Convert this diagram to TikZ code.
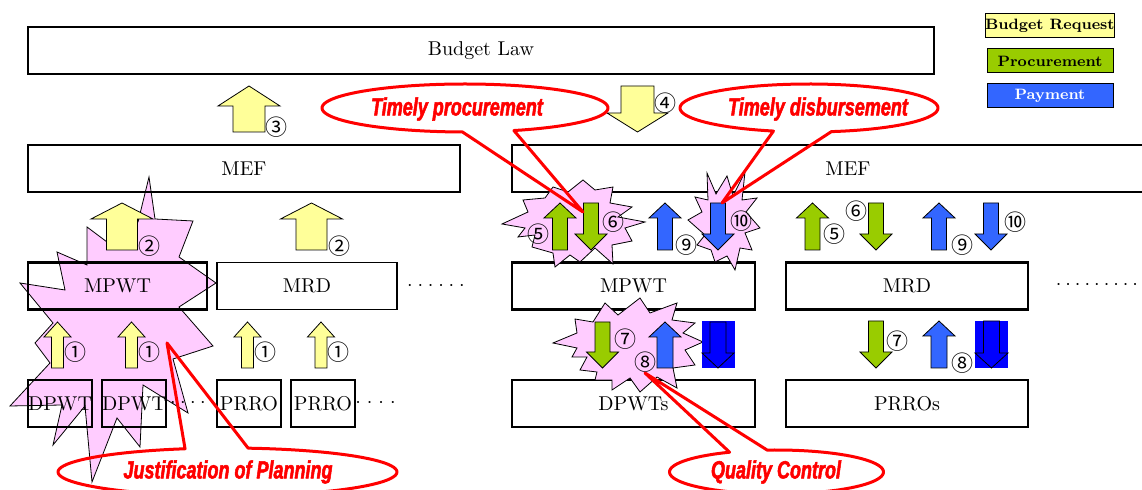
\documentclass[tikz,border=0pt]{standalone}
\usepackage{fontspec}
\newfontfamily\circfont{Noto Sans CJK JP}
\newfontfamily\calloutfont[FakeStretch=0.72,FakeBold=2]{Liberation Sans}

\definecolor{reqyellow}{HTML}{FFFF99}
\definecolor{procgreen}{HTML}{99CC00}
\definecolor{payblue}{HTML}{3366FF}
\definecolor{holdblue}{HTML}{0000FF}
\definecolor{burstpink}{HTML}{FFCCFF}

\newcommand{\dotrow}[2]{\makebox[#1]{\cleaders\hbox to #2{\hss$\cdot$\hss}\hfill}}

\tikzset{
  pics/uparrow/.style n args={4}{code={
    \path[pic actions] ({-#2/2},0) -- ({-#2/2},{-#3+#4}) -- ({-#1/2},{-#3+#4})
      -- (0,{-#3}) -- ({#1/2},{-#3+#4}) -- ({#2/2},{-#3+#4}) -- ({#2/2},0) -- cycle;
  }},
  pics/downarrow/.style n args={4}{code={
    \path[pic actions] ({-#2/2},0) -- ({-#2/2},{#3-#4}) -- ({-#1/2},{#3-#4})
      -- (0,{#3}) -- ({#1/2},{#3-#4}) -- ({#2/2},{#3-#4}) -- ({#2/2},0) -- cycle;
  }}
}

\begin{document}
\begin{tikzpicture}[x=0.5pt,y=-0.5pt,
    box/.style={draw,line width=1.2pt,inner sep=0pt,minimum height=23.5pt},
    thinbox/.style={draw,line width=0.6pt,inner sep=0pt,minimum height=23.5pt},
    legend/.style={draw,line width=0.5pt,inner sep=0pt,minimum width=63pt,minimum height=12pt,
      font=\fontsize{7.5}{9}\selectfont\bfseries},
    num/.style={inner sep=0pt,font=\circfont\fontsize{11}{11}\selectfont},
    burst/.style={draw,fill=burstpink,line width=0.4pt},
    request/.style={draw,fill=reqyellow,line width=0.4pt},
    procure/.style={draw,fill=procgreen,line width=0.4pt},
    payment/.style={draw,fill=payblue,line width=0.4pt},
    hold/.style={fill=holdblue,inner sep=0pt,minimum width=16.5pt,minimum height=23.5pt},
    callout/.style={draw=red,line width=1.5pt,line join=round},
    calltext/.style={text=red,font=\calloutfont\fontsize{12.5}{13}\selectfont\bfseries\itshape},
    dots/.style={inner sep=0pt}]

  \clip (0,0) rectangle (1142,490);

  % planning burst behind the left boxes
  \draw[burst] (149,177) -- (155,219) -- (193,221) -- (179,257) -- (216,283) -- (179,307)
    -- (213,346) -- (173,359) -- (188,413) -- (143,385) -- (140,447) -- (117,418)
    -- (92,482) -- (85,406) -- (53,445) -- (62,405) -- (10,406) -- (50,363) -- (35,343)
    -- (53,323) -- (20,283) -- (65,290) -- (57,252) -- (87,265) -- (87,227) -- (107,242)
    -- (138,222) -- cycle;

  % top row and legend
  \node[box,minimum width=453pt] (law) at (481,50.5) {Budget Law};
  \node[legend,fill=reqyellow] (lreq) at (1050,26) {Budget Request};
  \node[legend,fill=procgreen] (lproc) at (1050,61) {Procurement};
  \node[legend,fill=payblue,text=white] (lpay) at (1050,96) {Payment};

  \node[box,minimum width=216pt] (mefl) at (244,168.5) {MEF};
  \node[box,minimum width=336pt] (mefr) at (848,168.5) {MEF};

  \pic[request] at (249,132) {uparrow={62}{32}{46}{20}};
  \node[num] (n3) at (276,127) {③};
  \pic[request] at (637.5,86) {downarrow={61}{33}{46}{19}};
  \node[num] (n4) at (665,103) {④};

  % left part
  \node[box,minimum width=89.5pt] (mpwtl) at (117.5,286) {MPWT};
  \node[thinbox,minimum width=90pt] (mrdl) at (307,286) {MRD};
  \node[dots] (dotl1) at (436,286) {\dotrow{31.5pt}{5.2pt}};
  \node[box,minimum width=32pt] (dpwt1) at (60,403.5) {DPWT};
  \node[box,minimum width=32pt] (dpwt2) at (134,403.5) {DPWT};
  \node[dots] (dotl2) at (188,403) {\dotrow{20.5pt}{5pt}};
  \node[thinbox,minimum width=32pt] (prro1) at (249,403.5) {PRRO};
  \node[thinbox,minimum width=32pt] (prro2) at (323,403.5) {PRRO};
  \node[dots] (dotl3) at (375.5,403) {\dotrow{23.5pt}{5.8pt}};

  \pic[request] at (122,250) {uparrow={62}{31}{47}{16}};
  \node[num] (n2a) at (149,246) {②};
  \pic[request] at (311.5,250) {uparrow={62}{31}{47}{16}};
  \node[num] (n2b) at (339,246) {②};
  \foreach \x/\n in {57.5/a,131.5/b,247.5/c,321/d} {
    \pic[request] at (\x,368) {uparrow={27}{12}{46}{15}};
    \node[num] (n1\n) at (\x+17.5,352) {①};
  }

  % right part
  \node[box,minimum width=121.5pt] (mpwtr) at (633.5,286) {MPWT};
  \node[box,minimum width=121pt] (mrdr) at (907,286) {MRD};
  \node[dots] (dotr) at (1097,285) {\dotrow{43.5pt}{4.8pt}};
  \node[box,minimum width=121.5pt] (dpwts) at (633.5,403.5) {DPWTs};
  \node[box,minimum width=121pt] (prros) at (907,403.5) {PRROs};

  \draw[burst] (502,224) -- (528,212) -- (523,200) -- (545,198) -- (553,187) -- (568,192)
    -- (583,180) -- (595,190) -- (613,187) -- (610,203) -- (632,207) -- (618,217)
    -- (645,222) -- (625,228) -- (632,241) -- (612,245) -- (613,264) -- (595,248)
    -- (580,262) -- (570,255) -- (555,267) -- (553,253) -- (532,247) -- (535,235)
    -- (518,237) -- (525,228) -- cycle;
  \draw[burst] (707,173) -- (716,194) -- (727,176) -- (733,196) -- (745,172) -- (742,200)
    -- (757,198) -- (746,212) -- (760,228) -- (745,233) -- (752,250) -- (740,248)
    -- (735,270) -- (727,256) -- (715,262) -- (711,250) -- (697,245) -- (705,235)
    -- (688,220) -- (702,212) -- (695,197) -- (708,200) -- cycle;
  \draw[burst] (553,343) -- (577,333) -- (575,319) -- (593,322) -- (605,303) -- (618,315)
    -- (640,298) -- (650,313) -- (677,303) -- (672,320) -- (695,323) -- (683,333)
    -- (703,342) -- (685,350) -- (695,365) -- (673,368) -- (677,388) -- (657,377)
    -- (640,392) -- (630,378) -- (612,390) -- (612,380) -- (595,380) -- (597,372)
    -- (580,370) -- (587,357) -- (572,357) -- (577,348) -- cycle;

  \pic[procure] at (560,250) {uparrow={32}{15}{47}{15}};
  \node[num] (n5a) at (538,234) {⑤};
  \pic[procure] at (591,203) {downarrow={32}{15}{47}{16}};
  \node[num] (n6a) at (613,222) {⑥};
  \pic[payment] at (665,250) {uparrow={32}{15}{47}{15}};
  \node[num] (n9a) at (686,245) {⑨};
  \pic[payment] at (718,203) {downarrow={32}{15}{47}{16}};
  \node[num] (n10a) at (741,221) {⑩};

  \pic[procure] at (812.5,250) {uparrow={32}{15}{47}{15}};
  \node[num] (n5b) at (834,234) {⑤};
  \pic[procure] at (876,203) {downarrow={32}{15}{47}{16}};
  \node[num] (n6b) at (856,211) {⑥};
  \pic[payment] at (939,250) {uparrow={32}{15}{47}{15}};
  \node[num] (n9b) at (962,245) {⑨};
  \pic[payment] at (991,203) {downarrow={32}{15}{47}{16}};
  \node[num] (n10b) at (1015,222) {⑩};

  \pic[procure] at (602.5,322) {downarrow={32}{15}{46}{16}};
  \node[num] (n7a) at (625,339) {⑦};
  \pic[payment] at (665,368) {uparrow={32}{16}{46}{15}};
  \node[num] (n8a) at (645,362) {⑧};
  \node[hold] (holda) at (718,345) {};
  \pic[draw,fill=holdblue] at (718,322) {downarrow={32}{16}{46}{15}};

  \pic[procure] at (876,321) {downarrow={32}{15}{47}{16}};
  \node[num] (n7b) at (897,341) {⑦};
  \pic[payment] at (939,368) {uparrow={32}{16}{47}{15}};
  \node[num] (n8b) at (962,363) {⑧};
  \node[hold] (holdb) at (991.5,344.5) {};
  \pic[draw,fill=holdblue] at (991.5,321) {downarrow={33}{16}{47}{15}};

  % callouts
  \coordinate (ptip) at (583,212);
  \draw[callout] plot[domain=91:430,samples=90] ({465+143*cos(\x)},{108+24*sin(\x)}) -- (ptip) -- cycle;
  \node[calltext] (proc) at (457,109) {Timely procurement};

  \coordinate (dtip) at (722,203);
  \draw[callout] plot[domain=106:440,samples=90] ({809+129*cos(\x)},{108+24*sin(\x)}) -- (dtip) -- cycle;
  \node[calltext] (disb) at (818,109) {Timely disbursement};

  \coordinate (jtip) at (167,343);
  \draw[callout] plot[domain=277:615.5,samples=90] ({227.5+169.5*cos(\x)},{472+24*sin(\x)}) -- (jtip) -- cycle;
  \node[calltext] (just) at (228,472) {Justification of Planning};

  \coordinate (qtip) at (645,373);
  \draw[callout] plot[domain=265:604,samples=90] ({776.5+107*cos(\x)},{472+22*sin(\x)}) -- (qtip) -- cycle;
  \node[calltext] (qual) at (776,472) {Quality Control};

\end{tikzpicture}
\end{document}
